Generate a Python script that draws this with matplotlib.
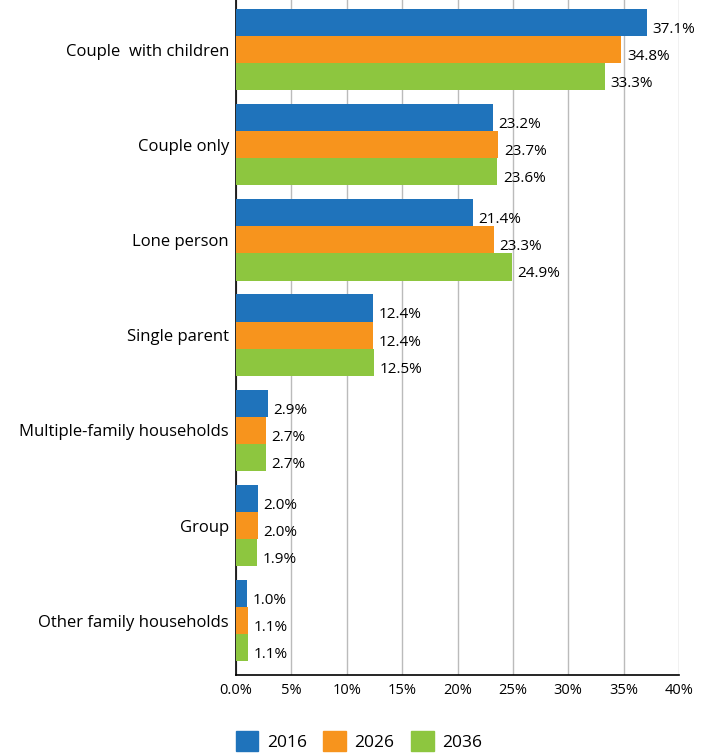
import matplotlib.pyplot as plt
from matplotlib.patches import Patch

plt.rcParams['font.family'] = ['Open Sans', 'DejaVu Sans']

kategorije = ['Couple  with children', 'Couple only', 'Lone person', 'Single parent',
              'Multiple-family households', 'Group', 'Other family households']
v2016 = [37.1, 23.2, 21.4, 12.4, 2.9, 2.0, 1.0]
v2026 = [34.8, 23.7, 23.3, 12.4, 2.7, 2.0, 1.1]
v2036 = [33.3, 23.6, 24.9, 12.5, 2.7, 1.9, 1.1]
leta = ['2016', '2026', '2036']
barve = ['#1f73bb', '#f7941d', '#8dc63f']
ticki = [0, 5, 10, 15, 20, 25, 30, 35, 40]
tick_oznake = ['0.0%', '5%', '10%', '15%', '20%', '25%', '30%', '35%', '40%']

fig = plt.figure(figsize=(7.13, 7.56), dpi=100)
ax = fig.add_axes([236 / 713, 81 / 756, 443 / 713, 675 / 756])

h = 0.285
serije = [v2016, v2026, v2036]
for i, (vrednosti, barva) in enumerate(zip(serije, barve)):
    y = [k + (i - 1) * h for k in range(len(kategorije))]
    ax.barh(y, vrednosti, height=h, color=barva, zorder=3)
    for yy, v in zip(y, vrednosti):
        ax.annotate(f'{v:.1f}%', (v, yy), xytext=(4, -5), textcoords='offset points',
                    va='center', ha='left', fontsize=11)

ax.set_xlim(0, 40)
ax.set_ylim(len(kategorije) - 0.43, -0.52)
ax.set_yticks(range(len(kategorije)))
ax.set_yticklabels(kategorije, fontsize=12)
ax.set_xticks(ticki)
ax.set_xticklabels(tick_oznake, fontsize=10.5)
ax.tick_params(length=0, pad=6)
ax.tick_params(axis='y', pad=5)
ax.grid(axis='x', color='#bbbbbb', linewidth=1, zorder=0)
for s in ['top', 'right']:
    ax.spines[s].set_visible(False)
ax.spines['left'].set_linewidth(1.2)
ax.spines['bottom'].set_linewidth(1.2)

rocke = [Patch(color=b, label=l) for b, l in zip(barve, leta)]
fig.legend(handles=rocke, loc='lower left', bbox_to_anchor=(220 / 713, -0.014), ncol=3,
           frameon=False, fontsize=12.5, handlelength=1.3, handleheight=1.4,
           columnspacing=0.95, handletextpad=0.5)

plt.savefig('out.png', dpi=100)
